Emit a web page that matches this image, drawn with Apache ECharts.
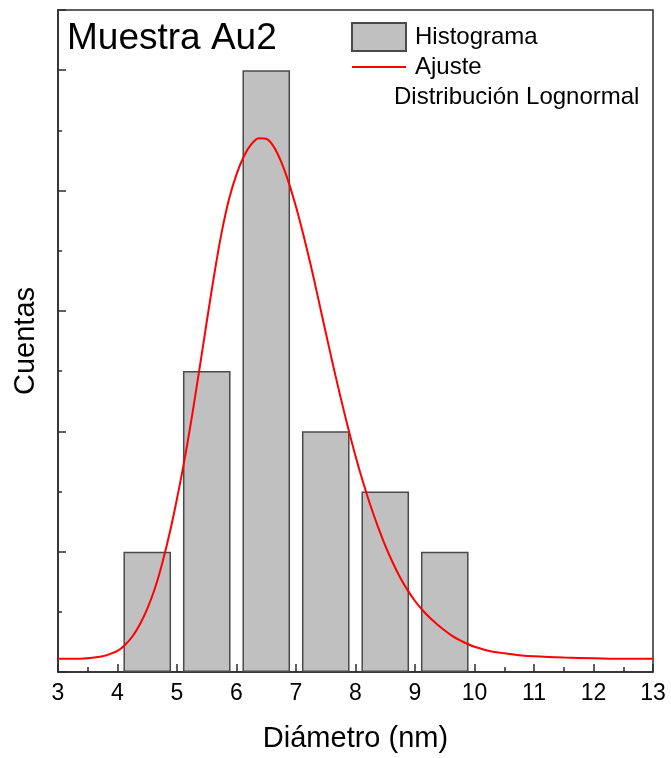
<!DOCTYPE html>
<html>
<head>
<meta charset="utf-8">
<script src="https://cdn.jsdelivr.net/npm/echarts@6/dist/echarts.min.js"></script>
<style>
  html, body { margin: 0; padding: 0; background: #fff; }
  #chart { width: 671px; height: 758px; }
</style>
</head>
<body>
<div id="chart"></div>
<script>
// Histogram of particle diameters (bin centres, nm) and counts
const binCenters = [4.5, 5.5, 6.5, 7.5, 8.5, 9.5];
const binCounts = [2, 5, 10, 4, 3, 2];

// Lognormal fit curve, sampled points (diameter nm, counts)
const fitX = [3.0, 3.25, 3.5, 3.75, 3.875, 4.0, 4.125, 4.25, 4.375, 4.5, 4.625, 4.75, 4.875,
              5.0, 5.125, 5.25, 5.375, 5.5, 5.625, 5.75, 5.875, 6.0, 6.125, 6.25, 6.375,
              6.5, 6.625, 6.75, 6.875, 7.0, 7.125, 7.25, 7.375, 7.5, 7.625, 7.75, 7.875,
              8.0, 8.125, 8.25, 8.375, 8.5, 8.625, 8.75, 8.875, 9.0, 9.125, 9.25, 9.375,
              9.5, 9.625, 9.75, 9.875, 10.0, 10.25, 10.5, 10.75, 11.0, 11.5, 12.0, 12.5, 13.0];
const fitY = [0.22, 0.22, 0.23, 0.26, 0.30, 0.35, 0.45, 0.59, 0.79, 1.05, 1.38, 1.80, 2.30,
              2.88, 3.52, 4.24, 5.02, 5.82, 6.60, 7.30, 7.86, 8.27, 8.57, 8.77, 8.87,
              8.86, 8.73, 8.48, 8.14, 7.73, 7.26, 6.75, 6.20, 5.64, 5.09, 4.56, 4.06,
              3.59, 3.16, 2.77, 2.42, 2.10, 1.82, 1.57, 1.36, 1.18, 1.03, 0.90, 0.79,
              0.69, 0.60, 0.53, 0.47, 0.42, 0.35, 0.31, 0.28, 0.26, 0.24, 0.23, 0.22, 0.22];

// Axis ranges and tick spacing
const xMin = 3, xMax = 13, xStep = 1;
const yMin = 0, yMax = 11;

const font = 'Liberation Sans, Arial, sans-serif';
const ink = '#2b2b2b';

const chart = echarts.init(document.getElementById('chart'), null, { renderer: 'canvas' });

const histData = binCenters.map((c, i) => [c, binCounts[i]]);
const fitData = fitX.map((x, i) => [x, fitY[i]]);

chart.setOption({
  animation: false,
  backgroundColor: '#fff',
  title: {
    text: 'Muestra Au2',
    left: 67,
    top: 20,
    padding: 0,
    textStyle: { fontFamily: font, fontSize: 37, fontWeight: 'normal', color: '#000' }
  },
  legend: {
    orient: 'vertical',
    left: 351,
    top: 22,
    padding: 0,
    itemWidth: 54,
    itemHeight: 28,
    itemGap: 3,
    textStyle: { fontFamily: font, fontSize: 24, color: '#000', padding: [0, 0, 0, 4] },
    data: [
      { name: 'Histograma', icon: 'rect' },
      // line only, no marker on the legend swatch
      { name: 'Ajuste', itemStyle: { opacity: 0 } }
    ]
  },
  graphic: [{
    type: 'text',
    left: 394,
    top: 85,
    style: { text: 'Distribución Lognormal', font: '24px ' + font, fill: '#000' }
  }],
  grid: {
    left: 58, right: 18, top: 10, bottom: 86,
    show: true, borderColor: ink, borderWidth: 1.5, backgroundColor: 'transparent'
  },
  xAxis: {
    type: 'value',
    min: xMin, max: xMax, interval: xStep,
    name: 'Diámetro (nm)',
    nameLocation: 'middle',
    nameGap: 52,
    nameTextStyle: { fontFamily: font, fontSize: 29, color: '#000' },
    axisLine: { show: true, lineStyle: { color: ink, width: 1.5 } },
    axisTick: { show: true, inside: true, length: 8, lineStyle: { color: ink, width: 1.5 } },
    minorTick: { show: true, splitNumber: 2, length: 5, lineStyle: { color: ink, width: 1.5 } },
    axisLabel: { margin: 10, fontFamily: font, fontSize: 23, color: '#000' },
    splitLine: { show: false }
  },
  yAxis: [{
    type: 'value',
    position: 'left',
    min: yMin, max: yMax, interval: 1,
    name: 'Cuentas',
    nameLocation: 'middle',
    nameGap: 18,
    nameTextStyle: { fontFamily: font, fontSize: 29, color: '#000' },
    axisLine: { show: true, lineStyle: { color: ink, width: 1.5 } },
    axisTick: { show: true, inside: true, length: 4, lineStyle: { color: ink, width: 1.5 } },
    axisLabel: { show: false },
    splitLine: { show: false }
  }, {
    type: 'value',
    position: 'left',
    min: yMin, max: yMax, interval: 2,
    axisLine: { show: false },
    axisTick: { show: true, inside: true, length: 8, lineStyle: { color: ink, width: 1.5 } },
    axisLabel: { show: false },
    splitLine: { show: false }
  }],
  series: [{
    name: 'Histograma',
    type: 'bar',
    yAxisIndex: 0,
    barWidth: '80%',
    data: histData,
    itemStyle: { color: '#c0c0c0', borderColor: '#4a4a4a', borderWidth: 1.5 },
    z: 2
  }, {
    name: 'Ajuste',
    type: 'line',
    yAxisIndex: 0,
    data: fitData,
    smooth: 0.3,
    symbol: 'none',
    lineStyle: { color: '#ff0000', width: 2 },
    itemStyle: { color: '#ff0000' },
    z: 3
  }]
});
</script>
</body>
</html>
